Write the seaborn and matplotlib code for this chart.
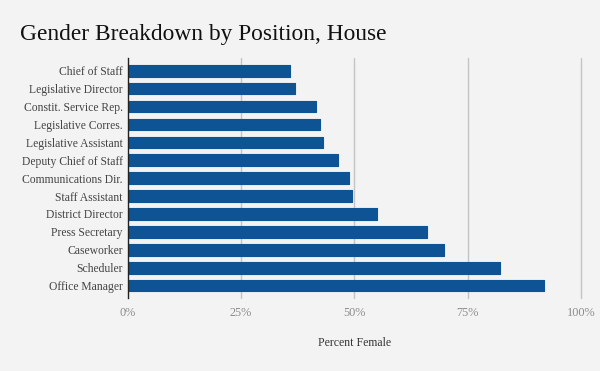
import matplotlib
matplotlib.use("Agg")
import matplotlib.pyplot as plt
import seaborn as sns
import pandas as pd

positions = ["Chief of Staff", "Legislative Director", "Constit. Service Rep.",
             "Legislative Corres.", "Legislative Assistant", "Deputy Chief of Staff",
             "Communications Dir.", "Staff Assistant", "District Director",
             "Press Secretary", "Caseworker", "Scheduler", "Office Manager"]
pct_female = [35.8, 36.9, 41.6, 42.4, 43.0, 46.4, 48.8, 49.4, 55.0, 66.0, 69.8, 82.1, 91.8]
x_ticks = [0, 25, 50, 75, 100]
x_tick_labels = ["0%", "25%", "50%", "75%", "100%"]

df = pd.DataFrame({"Position": positions, "Pct": pct_female})

BG = "#f3f3f3"
BAR = "#0e5494"

sns.set_theme(style="white")
plt.rcParams["font.family"] = ["Liberation Serif", "DejaVu Serif"]

fig = plt.figure(figsize=(6.0, 3.71), dpi=100, facecolor=BG)
ax = fig.add_axes([127.5 / 600, 1 - 298 / 371, (581 - 127.5) / 600, (298 - 58) / 371])
ax.set_facecolor(BG)

sns.barplot(data=df, y="Position", x="Pct", orient="h", color=BAR, width=0.65,
            saturation=1, ax=ax, zorder=3)
for p in ax.patches:
    p.set_edgecolor(BAR)
    p.set_linewidth(0.8)
    p.set_joinstyle("round")

ax.set_xlim(0, 100)
ax.set_ylim(12.69, -0.71)
ax.set_xticks(x_ticks)
ax.set_xticklabels(x_tick_labels, color="#8c8c8c", fontsize=8.8)
ax.tick_params(axis="x", length=0, pad=6.5)
ax.tick_params(axis="y", length=0, pad=3.5, labelsize=8.4, labelcolor="#444444")
for xv in x_ticks[1:]:
    ax.axvline(xv, color="#c4c4c4", lw=1, zorder=1, clip_on=False)
for s in ["top", "right", "bottom"]:
    ax.spines[s].set_visible(False)
ax.spines["left"].set_color("#222222")
ax.spines["left"].set_linewidth(1)
ax.spines["left"].set_zorder(4)

ax.set_ylabel("")
ax.set_xlabel("Percent Female", fontsize=8.5, color="#333333", labelpad=13)

fig.text(20 / 600, 1 - 40 / 371, "Gender Breakdown by Position, House",
         fontsize=16.8, color="#111111", ha="left", va="baseline")

fig.savefig("out.png", dpi=100, facecolor=BG)
